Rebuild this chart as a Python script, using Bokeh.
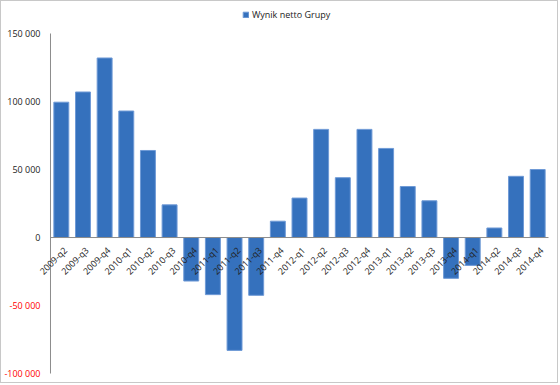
import math
from bokeh.plotting import figure
from bokeh.models import ColumnDataSource, Range1d, LabelSet, Legend, LegendItem
from bokeh.core.properties import value
from bokeh.embed import file_html
from bokeh.resources import INLINE

categories = ["2009-q2", "2009-q3", "2009-q4",
              "2010-q1", "2010-q2", "2010-q3", "2010-q4",
              "2011-q1", "2011-q2", "2011-q3", "2011-q4",
              "2012-q1", "2012-q2", "2012-q3", "2012-q4",
              "2013-q1", "2013-q2", "2013-q3", "2013-q4",
              "2014-q1", "2014-q2", "2014-q3", "2014-q4"]
values = [99500, 107000, 132000,
          93000, 64000, 24000, -32000,
          -42000, -83000, -42500, 12000,
          29000, 79500, 44000, 79500,
          65500, 37500, 27000, -30000,
          -20500, 7000, 45000, 50000]
series_name = "Wynik netto Grupy"
y_ticks = [150000, 100000, 50000, 0, -50000, -100000]
y_min, y_max = -100000, 150000

def fmt(v):
    s = f"{abs(v):,}".replace(",", " ")
    return ("-" if v < 0 else "") + s

FONT = "Open Sans"
AXIS_COLOR = "#8c8c8c"
n = len(categories)
pos = list(range(n))           # category slots; slot i spans i-0.5 .. i+0.5
left_edge, right_edge = -0.5, n - 0.5

p = figure(width=558, height=383, x_range=Range1d(-2.763, n + 0.008),
           y_range=Range1d(y_min - 6600, y_max + 17650), output_backend="svg",
           toolbar_location=None,
           min_border_left=0, min_border_right=0, min_border_top=8, min_border_bottom=2)
p.outline_line_color = None
p.xgrid.grid_line_color = None
p.ygrid.grid_line_color = None
p.xaxis.visible = False
p.yaxis.visible = False
p.styles = {"border": "1px solid #c8c8c8"}

src = ColumnDataSource(dict(x=pos, cat=categories, val=values))
r = p.vbar(x="x", top="val", bottom=0, width=0.69, source=src,
           fill_color="#3571bd", line_color="#6f9ad6", line_width=1)

# value axis line and category axis line (at zero)
p.segment(x0=[left_edge], y0=[y_min], x1=[left_edge], y1=[y_max], line_color=AXIS_COLOR, line_width=1)
p.segment(x0=[left_edge], y0=[0], x1=[right_edge], y1=[0], line_color=AXIS_COLOR, line_width=1)

# category labels at the zero line
p.add_layout(LabelSet(x="x", y=0, text="cat", source=src,
                      angle=math.pi / 4, text_align="right", text_baseline="middle",
                      x_offset=4, y_offset=-11, text_font=value(FONT), text_font_size="9px",
                      text_color="#222222"))

# value tick labels (negatives in red)
tick_src = ColumnDataSource(dict(x=[left_edge] * len(y_ticks), y=y_ticks,
                                 t=[fmt(v) for v in y_ticks],
                                 c=["#ff0000" if v < 0 else "#222222" for v in y_ticks]))
p.add_layout(LabelSet(x="x", y="y", text="t", source=tick_src, x_offset=-10,
                      text_align="right", text_baseline="middle", text_font=value(FONT),
                      text_font_size="9px", text_color="c"))

legend = Legend(items=[LegendItem(label=series_name, renderers=[r])], orientation="horizontal",
                location=(241, 361), label_text_font=FONT, label_text_font_size="9px",
                label_text_color="#222222", glyph_width=7, glyph_height=7, border_line_color=None,
                background_fill_alpha=0, padding=2, margin=0, label_standoff=3,
                label_height=10)
p.add_layout(legend, "center")

open("out.html", "w").write(file_html(p, INLINE))
